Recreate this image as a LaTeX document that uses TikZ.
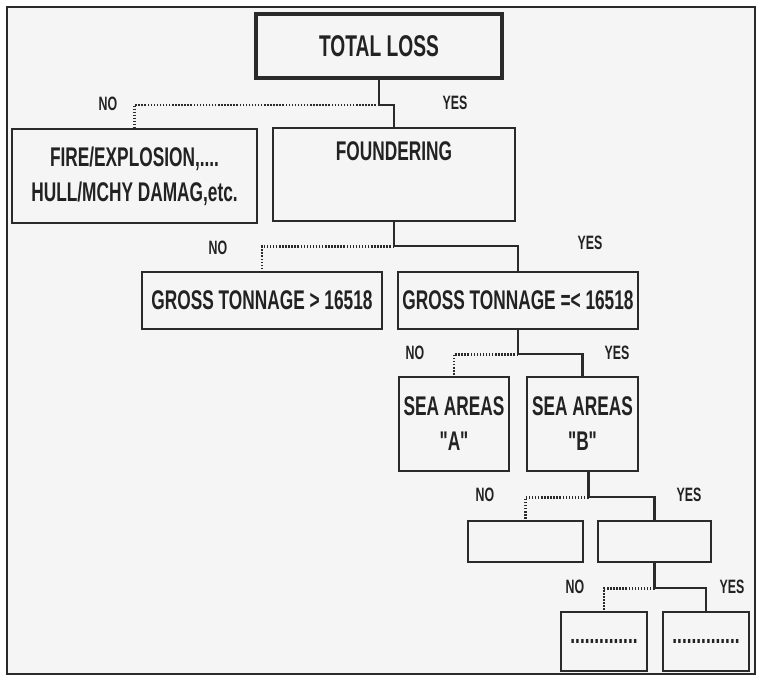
\documentclass[tikz,border=0pt]{standalone}
\usepackage{fontspec}
\newfontfamily\nfont{Liberation Sans}[FakeStretch=0.64]
\newcommand\mainf{\nfont\bfseries\fontsize{20.25pt}{26.25pt}\selectfont}
\newcommand\bigf{\nfont\bfseries\fontsize{22.5pt}{27pt}\selectfont}
\newcommand\labf{\nfont\bfseries\fontsize{14.5pt}{17pt}\selectfont}
\definecolor{linec}{HTML}{2A2A2A}
\definecolor{txtc}{HTML}{222222}
\definecolor{bgc}{HTML}{F5F5F5}
\begin{document}
\begin{tikzpicture}[x=0.75pt,y=-0.75pt,
  ln/.style={draw=linec, line width=1.6pt},
  dt/.style={draw=linec, line width=1.7pt, dash pattern=on 1.1pt off 1.2pt},
  bx/.style={draw=linec, line width=2.1pt, inner sep=0pt, fill=bgc, text=txtc, align=center, font=\mainf},
  lab/.style={text=txtc, font=\labf, inner sep=0pt}]
\path[fill=white] (0,0) rectangle (759,679);
\useasboundingbox (0,0) rectangle (759,679);
\draw[draw=linec, line width=2.2pt, fill=bgc] (7,7) rectangle (755,674);

% boxes
\node[bx, line width=2.6pt, font=\bigf, minimum width=184.5pt, minimum height=48pt] (tl) at (379,46) {TOTAL LOSS};
\node[bx, minimum width=183.75pt, minimum height=70.5pt] (fire) at (134.5,176) {FIRE/EXPLOSION,....\\HULL/MCHY DAMAG,etc.};
\node[bx, minimum width=181.5pt, minimum height=69.75pt,
  label={[anchor=center, yshift=-18.75pt, font=\mainf, text=txtc]north:FOUNDERING}] (found) at (394,174.5) {};
\node[bx, minimum width=180pt, minimum height=42.75pt] (g1) at (262,300.5) {GROSS TONNAGE > 16518};
\node[bx, minimum width=180pt, minimum height=42.75pt] (g2) at (518,300.5) {GROSS TONNAGE =< 16518};
\node[bx, minimum width=82.5pt, minimum height=70.5pt] (seaA) at (454,424) {SEA AREAS\\"A"};
\node[bx, minimum width=83.25pt, minimum height=70.5pt] (seaB) at (582.5,424) {SEA AREAS\\"B"};
\node[bx, minimum width=86.25pt, minimum height=30.75pt] (l4a) at (525.5,541.5) {};
\node[bx, minimum width=84.75pt, minimum height=30.75pt] (l4b) at (654.5,541.5) {};
\node[bx, minimum width=64.5pt, minimum height=44.25pt] (l5a) at (604,641.5) {..............};
\node[bx, minimum width=64.5pt, minimum height=44.25pt] (l5b) at (706,641.5) {..............};

% connectors
\draw[ln] (tl.south) -- ++(0,25) coordinate (j1);
\draw[dt] (j1) -| (fire.north);
\draw[ln] (j1) -| (found.north);

\draw[ln] (found.south) -- ++(0,24) coordinate (j2);
\draw[dt] (j2) -| (g1.north);
\draw[ln] (j2) -| (g2.north);

\draw[ln] (g2.south) -- ++(0,24) coordinate (j3);
\draw[dt] (j3) -| (seaA.north);
\draw[ln] (j3) -| (seaB.north);

\draw[ln] ([xshift=4.5pt]seaB.south) -- ++(0,25) coordinate (j4);
\draw[dt] (j4) -| (l4a.north);
\draw[ln] (j4) -| (l4b.north);

\draw[ln] (l4b.south) -- ++(0,25) coordinate (j5);
\draw[dt] (j5) -| (l5a.north);
\draw[ln] (j5) -| (l5b.north);

% labels
\node[lab] (no1) at (108,104) {NO};
\node[lab] (yes1) at (455,103) {YES};
\node[lab] (no2) at (218,248) {NO};
\node[lab] (yes2) at (590,243) {YES};
\node[lab] (no3) at (415,353) {NO};
\node[lab] (yes3) at (617,353) {YES};
\node[lab] (no4) at (485,495) {NO};
\node[lab] (yes4) at (689,495) {YES};
\node[lab] (no5) at (575,587) {NO};
\node[lab] (yes5) at (732,587) {YES};
\end{tikzpicture}
\end{document}
